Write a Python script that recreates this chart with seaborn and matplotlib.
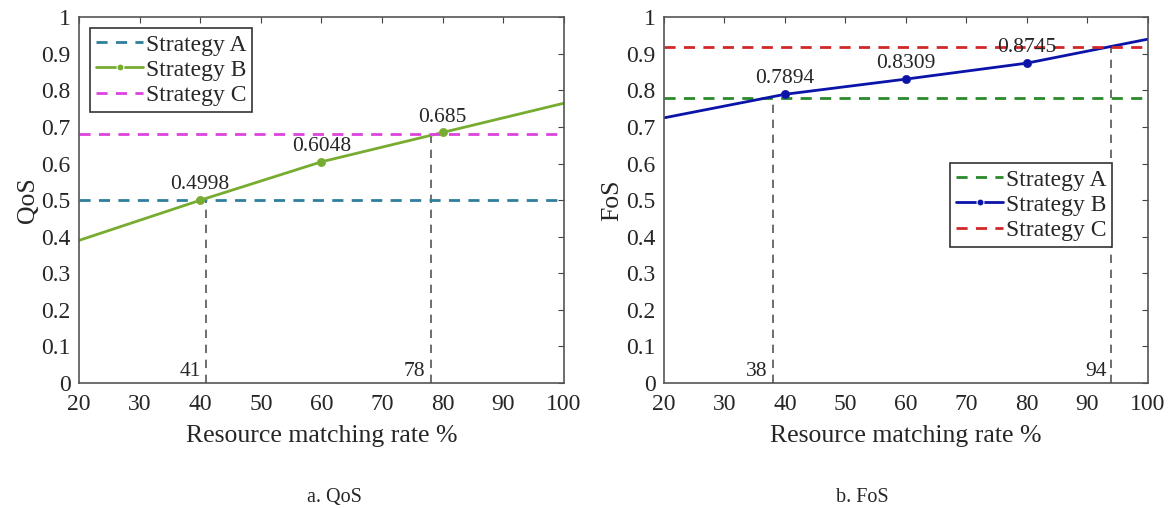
import pandas as pd
import seaborn as sns
import matplotlib.pyplot as plt

# dados
x_range = [20, 100]
x_b = [20, 40, 60, 80, 100]
qos_b = [0.39, 0.4998, 0.6048, 0.685, 0.765]
qos_a = 0.5
qos_c = 0.68
qos_cross = [41, 78]
fos_b = [0.725, 0.7894, 0.8309, 0.8745, 0.94]
fos_a = 0.78
fos_c = 0.92
fos_cross = [38, 94]
marker_x = [40, 60, 80]
qos_labels = ["0.4998", "0.6048", "0.685"]
fos_labels = ["0.7894", "0.8309", "0.8745"]

sns.set_style("white")
plt.rcParams['font.family'] = ['Liberation Serif', 'DejaVu Serif']

fig = plt.figure(figsize=(11.71, 5.08), dpi=100)
ax1 = fig.add_axes([0.0675, 0.246, 0.414, 0.720])
ax2 = fig.add_axes([0.567, 0.246, 0.413, 0.720])


def painel(ax, b_vals, a_val, c_val, cross, labels, cores, ylabel, leg_anchor):
    df_b = pd.DataFrame({"x": x_b, "y": b_vals})
    df_a = pd.DataFrame({"x": x_range, "y": [a_val, a_val]})
    df_c = pd.DataFrame({"x": x_range, "y": [c_val, c_val]})
    sns.lineplot(data=df_a, x="x", y="y", ax=ax, color=cores[0], lw=2,
                 linestyle=(0, (4, 3)), label="Strategy A")
    sns.lineplot(data=df_b, x="x", y="y", ax=ax, color=cores[1], lw=2,
                 label="Strategy B")
    sns.lineplot(data=df_c, x="x", y="y", ax=ax, color=cores[2], lw=2,
                 linestyle=(0, (4, 3)), label="Strategy C")
    # marcadores nos pontos 40, 60, 80
    mk = df_b[df_b["x"].isin(marker_x)]
    sns.scatterplot(data=mk, x="x", y="y", ax=ax, color=cores[1], s=35,
                    edgecolor=cores[1], zorder=5, legend=False)
    ax.lines[1].set_marker("o")
    ax.lines[1].set_markevery([1, 2, 3])
    ax.lines[1].set_markersize(5)
    for xv, yv, txt in zip(mk["x"], mk["y"], labels):
        ax.text(xv, yv + 0.016, txt, ha="center", va="bottom", fontsize=15.5)
    # linhas verticais tracejadas
    for xc, yc in zip(cross, [a_val, c_val]):
        ax.plot([xc, xc], [0, yc], color="#555555", lw=1.2,
                linestyle=(0, (5, 4)), zorder=1)
        ax.text(xc - 0.8, 0.005, str(xc), ha="right", va="bottom", fontsize=15.5)

    ax.set_xlim(20, 100)
    ax.set_ylim(0, 1)
    ax.set_xticks(range(20, 101, 10))
    ax.set_yticks([i / 10 for i in range(11)])
    ax.set_yticklabels(["0"] + [f"0.{i}" for i in range(1, 10)] + ["1"])
    ax.tick_params(direction="in", top=True, right=True, labelsize=17,
                   length=4, color="#444444")
    ax.tick_params(axis="y", pad=6)
    ax.tick_params(axis="x", pad=8)
    for s in ax.spines.values():
        s.set_color("#555555")
        s.set_linewidth(1.2)
    ax.set_xlabel("Resource matching rate %", fontsize=18.5, labelpad=7)
    ax.set_ylabel(ylabel, fontsize=18.5, labelpad=2)
    leg = ax.legend(loc="upper left", bbox_to_anchor=leg_anchor, fontsize=17,
                    handlelength=2.0, fancybox=False, framealpha=1,
                    borderpad=0.25, labelspacing=0.15, handletextpad=0.1,
                    borderaxespad=0)
    leg.get_frame().set_edgecolor("#333333")
    leg.get_frame().set_linewidth(1.2)


painel(ax1, qos_b, qos_a, qos_c, qos_cross, qos_labels,
       ["#2f7e9c", "#77ac30", "#dd44dd"], "QoS", (0.023, 0.97))
painel(ax2, fos_b, fos_a, fos_c, fos_cross, fos_labels,
       ["#2a8a2a", "#0a14a8", "#d02828"], "FoS", (0.592, 0.601))

fig.text(0.286, 0.02, "a. QoS", ha="center", va="center", fontsize=14.5)
fig.text(0.736, 0.02, "b. FoS", ha="center", va="center", fontsize=14.5)

plt.savefig("out.png", dpi=100)
